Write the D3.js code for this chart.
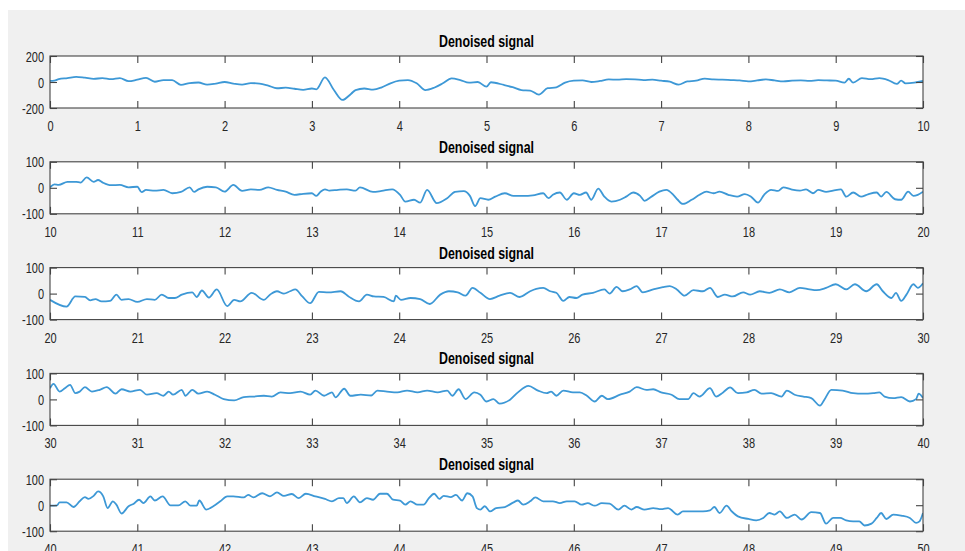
<!DOCTYPE html>
<html>
<head>
<meta charset="utf-8">
<script src="https://cdnjs.cloudflare.com/ajax/libs/d3/7.8.5/d3.min.js"></script>
<style>
  body { margin: 0; background: #fff; }
  text { font-family: "Liberation Sans", Arial, sans-serif; fill: #262626; }
  .tick line { stroke: #444; stroke-width: 1.1px; }
  .title { font-weight: bold; fill: #000; }
</style>
</head>
<body>
<svg id="fig" width="965" height="551"></svg>
<script>
// values, [time (s), amplitude]
var segStarts = [0, 10, 20, 30, 40];
var yLimits = [200, 100, 100, 100, 100];
var titleText = "Denoised signal";

var sig1 = [[0,8],[0.05,10],[0.1,22],[0.2,30],[0.3,40],[0.4,33],[0.5,24],[0.6,30],[0.7,22],[0.8,30],[0.9,6],
  [1.0,18],[1.1,32],[1.2,2],[1.3,15],[1.4,14],[1.5,-22],[1.6,-8],[1.7,-4],[1.8,-20],[1.9,-12],[2.0,0],
  [2.1,-12],[2.2,-20],[2.3,-8],[2.4,-12],[2.5,-28],[2.6,-48],[2.7,-44],[2.8,-52],[2.9,-60],[3.0,-50],
  [3.05,-56],[3.15,36],[3.25,-60],[3.35,-138],[3.45,-90],[3.5,-62],[3.6,-50],[3.7,-58],[3.8,-41],[3.9,-10],
  [4.0,10],[4.1,15],[4.2,-10],[4.3,-62],[4.4,-44],[4.5,-10],[4.6,28],[4.7,15],[4.8,-5],[4.9,0],[5.0,-36],
  [5.05,-2],[5.2,-23],[5.3,-40],[5.4,-62],[5.5,-66],[5.6,-97],[5.7,-48],[5.8,-41],[5.9,-5],[6.0,10],
  [6.1,12],[6.2,0],[6.3,8],[6.4,20],[6.5,18],[6.6,22],[6.7,20],[6.8,15],[6.9,18],[7.0,10],[7.1,2],
  [7.2,-20],[7.3,5],[7.4,10],[7.5,26],[7.6,20],[7.7,18],[7.8,15],[7.9,12],[8.0,5],[8.1,12],[8.2,20],
  [8.3,12],[8.4,5],[8.5,10],[8.6,12],[8.7,8],[8.8,14],[8.9,12],[9.0,10],[9.1,-5],[9.15,25],[9.2,-5],
  [9.3,30],[9.4,22],[9.5,30],[9.6,15],[9.7,-15],[9.75,10],[9.8,-10],[9.9,-5],[10.0,8]];

var sig2 = [[10.0,2],[10.05,13],[10.1,11],[10.2,23],[10.3,23],[10.35,20],[10.42,40],[10.5,23],[10.55,30],
  [10.6,21],[10.7,10],[10.8,11],[10.9,2],[11.0,4],[11.05,-17],[11.1,-8],[11.2,-11],[11.3,-8],[11.4,-21],
  [11.5,-16],[11.6,2],[11.65,-16],[11.7,-6],[11.8,4],[11.9,2],[12.0,-15],[12.1,11],[12.2,-12],[12.3,-6],
  [12.4,-8],[12.5,2],[12.6,-8],[12.7,-15],[12.8,-27],[12.9,-23],[13.0,-21],[13.05,-31],[13.1,-15],
  [13.15,-6],[13.2,-11],[13.3,-8],[13.4,-6],[13.5,-11],[13.55,2],[13.7,-16],[13.8,-12],[13.92,-6],
  [14.01,-27],[14.07,-53],[14.17,-46],[14.24,-57],[14.32,-8],[14.43,-59],[14.55,-40],[14.64,-16],
  [14.74,-13],[14.81,-31],[14.87,-70],[14.93,-40],[15.02,-46],[15.1,-34],[15.21,-21],[15.31,-31],
  [15.42,-31],[15.53,-29],[15.65,-21],[15.71,-40],[15.76,-27],[15.84,-18],[15.92,-46],[16.0,-21],
  [16.07,-27],[16.14,-18],[16.2,-46],[16.28,-3],[16.35,-34],[16.43,-53],[16.53,-46],[16.6,-34],
  [16.68,-18],[16.76,-31],[16.81,-50],[16.89,-34],[16.98,-15],[17.06,-8],[17.14,-27],[17.19,-46],
  [17.25,-62],[17.35,-46],[17.44,-27],[17.52,-15],[17.6,-21],[17.67,-15],[17.77,-27],[17.87,-34],
  [17.96,-24],[18.03,-34],[18.11,-57],[18.18,-27],[18.26,-8],[18.34,-12],[18.4,2],[18.49,-6],[18.59,-11],
  [18.66,-6],[18.74,-21],[18.8,-8],[18.89,-16],[18.97,-11],[19.06,-6],[19.12,-34],[19.2,-18],[19.29,-34],
  [19.37,-25],[19.47,-18],[19.52,-34],[19.58,-16],[19.68,-44],[19.75,-46],[19.83,-15],[19.89,-31],
  [19.94,-27],[20.0,-15]];

var sig3 = [[20.0,-24],[20.19,-50],[20.29,-11],[20.4,-13],[20.46,-26],[20.52,-21],[20.59,-30],[20.69,-28],
  [20.76,-4],[20.82,-24],[20.9,-21],[21.0,-32],[21.11,-21],[21.2,-24],[21.28,-4],[21.36,-17],[21.43,-17],
  [21.51,-4],[21.63,5],[21.68,-13],[21.74,12],[21.82,-15],[21.91,16],[22.03,-48],[22.11,-24],[22.18,-30],
  [22.31,3],[22.45,-24],[22.52,-4],[22.6,9],[22.68,0],[22.75,9],[22.81,16],[22.89,-11],[22.98,-37],
  [23.08,7],[23.19,5],[23.33,9],[23.42,-11],[23.54,-30],[23.63,-4],[23.71,-11],[23.82,-13],[23.94,-30],
  [23.96,-8],[24.02,-24],[24.13,-17],[24.24,-21],[24.35,-40],[24.47,-4],[24.57,9],[24.67,5],[24.76,-8],
  [24.84,22],[24.93,3],[25.04,-21],[25.15,-8],[25.27,3],[25.38,-13],[25.5,9],[25.57,18],[25.65,22],
  [25.73,9],[25.8,3],[25.88,-28],[25.95,-13],[26.03,-17],[26.1,-4],[26.22,3],[26.35,16],[26.41,0],
  [26.49,26],[26.56,9],[26.64,16],[26.72,29],[26.79,5],[26.91,16],[27.02,25],[27.1,29],[27.18,16],
  [27.27,-8],[27.37,13],[27.48,9],[27.56,22],[27.65,-13],[27.73,-4],[27.82,-11],[27.94,5],[28.02,-4],
  [28.13,9],[28.24,3],[28.36,16],[28.47,5],[28.59,22],[28.7,16],[28.78,13],[28.89,22],[29.0,36],
  [29.12,16],[29.22,36],[29.35,9],[29.47,36],[29.54,9],[29.64,-17],[29.69,3],[29.75,-28],[29.81,-4],
  [29.89,36],[29.94,22],[30.0,40]];

var sig4 = [[30.0,43],[30.04,60],[30.11,30],[30.17,43],[30.23,56],[30.29,24],[30.34,30],[30.4,47],[30.48,30],
  [30.57,37],[30.65,47],[30.75,22],[30.82,39],[30.92,30],[31.03,37],[31.11,18],[31.22,24],[31.3,14],
  [31.36,30],[31.41,18],[31.51,37],[31.55,14],[31.63,37],[31.7,22],[31.8,30],[31.89,18],[31.99,1],
  [32.11,-4],[32.22,9],[32.33,11],[32.45,14],[32.54,11],[32.64,27],[32.75,24],[32.87,30],[32.98,18],
  [33.04,34],[33.14,14],[33.23,27],[33.27,8],[33.37,41],[33.44,14],[33.56,18],[33.68,15],[33.75,34],
  [33.86,30],[33.98,27],[34.09,34],[34.21,27],[34.32,34],[34.44,27],[34.55,34],[34.61,14],[34.68,39],
  [34.76,1],[34.86,27],[34.93,18],[35.0,-8],[35.08,1],[35.15,-16],[35.27,-1],[35.36,27],[35.48,52],
  [35.59,34],[35.69,24],[35.74,30],[35.8,14],[35.88,34],[35.99,27],[36.07,27],[36.15,14],[36.24,-8],
  [36.32,14],[36.39,1],[36.53,18],[36.64,30],[36.72,47],[36.83,37],[36.91,39],[37.0,27],[37.12,18],
  [37.21,1],[37.31,1],[37.37,24],[37.44,11],[37.56,43],[37.63,11],[37.71,27],[37.79,46],[37.88,24],
  [37.98,27],[38.07,37],[38.15,22],[38.26,24],[38.38,11],[38.44,34],[38.53,18],[38.63,11],[38.72,5],
  [38.82,-24],[38.87,-1],[38.95,37],[39.08,34],[39.2,24],[39.31,22],[39.43,24],[39.5,27],[39.56,11],
  [39.66,5],[39.75,9],[39.85,-8],[39.92,1],[39.95,22],[40.0,5]];

var sig5 = [[40.0,-2],[40.08,-1],[40.11,11],[40.19,11],[40.27,-7],[40.34,15],[40.4,31],[40.44,24],[40.5,36],
  [40.55,53],[40.61,34],[40.66,-11],[40.72,15],[40.76,2],[40.82,-32],[40.9,-4],[40.96,6],[41.02,21],
  [41.07,8],[41.15,34],[41.2,18],[41.29,34],[41.38,-1],[41.47,-1],[41.55,15],[41.61,-2],[41.68,-2],
  [41.71,18],[41.79,-17],[41.87,-4],[41.95,15],[42.03,34],[42.1,34],[42.22,30],[42.27,40],[42.33,30],
  [42.43,46],[42.52,34],[42.6,49],[42.68,36],[42.77,43],[42.85,27],[42.93,44],[43.04,34],[43.15,24],
  [43.23,15],[43.31,27],[43.36,27],[43.4,8],[43.48,34],[43.55,11],[43.63,27],[43.7,21],[43.78,44],
  [43.86,44],[43.93,21],[44.01,18],[44.07,2],[44.13,15],[44.21,2],[44.28,2],[44.34,27],[44.4,44],
  [44.46,24],[44.51,36],[44.59,31],[44.65,40],[44.72,18],[44.78,46],[44.84,34],[44.89,-11],[44.93,-17],
  [44.98,-4],[45.04,-24],[45.11,-11],[45.21,-7],[45.31,11],[45.36,18],[45.42,2],[45.5,15],[45.56,30],
  [45.65,15],[45.76,15],[45.84,8],[45.92,15],[46.01,15],[46.09,2],[46.16,8],[46.24,-2],[46.32,8],
  [46.41,6],[46.51,-17],[46.58,-2],[46.66,-17],[46.72,-7],[46.81,-17],[46.91,-11],[47.0,-15],[47.08,-11],
  [47.19,-36],[47.25,-24],[47.37,-24],[47.48,-24],[47.56,-20],[47.61,-7],[47.67,-30],[47.75,-2],
  [47.81,-24],[47.88,-43],[48.0,-53],[48.09,-58],[48.17,-49],[48.24,-30],[48.3,-36],[48.36,-24],
  [48.44,-49],[48.53,-36],[48.61,-55],[48.72,-27],[48.82,-30],[48.89,-71],[48.97,-49],[49.05,-49],
  [49.12,-58],[49.2,-62],[49.27,-62],[49.33,-78],[49.41,-71],[49.47,-49],[49.52,-30],[49.58,-53],
  [49.66,-36],[49.75,-40],[49.85,-49],[49.92,-68],[49.96,-62],[50.0,-30]];

var signals = [sig1, sig2, sig3, sig4, sig5];

var svg = d3.select("#fig");
var W = 965, H = 551;
var left = 50, right = 923, top0 = 56, step = 105.8, axH = 52;
var tickLen = 7, sy = 1.35;

// white page with the grey MATLAB figure area
svg.append("rect").attr("width", W).attr("height", H).attr("fill", "#fff");
svg.append("rect").attr("x", 8).attr("y", 10).attr("width", W - 8).attr("height", H - 10).attr("fill", "#f0f0f0");

signals.forEach(function(data, i) {
  var t0 = segStarts[i], lim = yLimits[i];
  var top = top0 + i * step;
  var x = d3.scaleLinear().domain([t0, t0 + 10]).range([left, right]);
  var y = d3.scaleLinear().domain([-lim, lim]).range([top + axH, top]);
  var g = svg.append("g");

  g.append("rect")
    .attr("x", left).attr("y", top)
    .attr("width", right - left).attr("height", axH)
    .attr("fill", "#fff");

  var clipId = "clip" + i;
  g.append("clipPath").attr("id", clipId)
    .append("rect").attr("x", left).attr("y", top).attr("width", right - left).attr("height", axH);

  var line = d3.line()
    .curve(d3.curveMonotoneX)
    .x(function(d) { return x(d[0]); })
    .y(function(d) { return y(d[1]); });
  g.append("path")
    .datum(data)
    .attr("clip-path", "url(#" + clipId + ")")
    .attr("d", line)
    .attr("fill", "none")
    .attr("stroke", "#3d98d6")
    .attr("stroke-width", 1.8)
    .attr("stroke-linejoin", "round");

  var xt = d3.range(t0, t0 + 11);
  var yt = [-lim, 0, lim];

  var gb = g.append("g").attr("transform", "translate(0," + (top + axH) + ")")
    .call(d3.axisBottom(x).tickValues(xt).tickSizeInner(-tickLen).tickSizeOuter(0)
      .tickFormat(function(d) { return String(d); }));
  gb.selectAll("text")
    .attr("y", null).attr("dy", null)
    .attr("transform", "translate(0,23) scale(1," + sy + ")")
    .style("font-size", "11px");

  g.append("g").attr("transform", "translate(0," + top + ")")
    .call(d3.axisTop(x).tickValues(xt).tickSizeInner(-tickLen).tickSizeOuter(0).tickFormat(""));

  var gl = g.append("g").attr("transform", "translate(" + left + ",0)")
    .call(d3.axisLeft(y).tickValues(yt).tickSizeInner(-tickLen).tickSizeOuter(0)
      .tickFormat(function(d) { return String(d); }));
  gl.selectAll("text")
    .attr("x", null).attr("dy", null)
    .attr("text-anchor", "end")
    .attr("transform", "translate(-6,5) scale(1," + sy + ")")
    .style("font-size", "11px");

  g.append("g").attr("transform", "translate(" + right + ",0)")
    .call(d3.axisRight(y).tickValues(yt).tickSizeInner(-tickLen).tickSizeOuter(0).tickFormat(""));

  g.selectAll(".domain").remove();

  g.append("rect")
    .attr("x", left).attr("y", top)
    .attr("width", right - left).attr("height", axH)
    .attr("fill", "none").attr("stroke", "#444").attr("stroke-width", 1.1);

  g.append("text")
    .attr("class", "title")
    .attr("text-anchor", "middle")
    .attr("transform", "translate(" + ((left + right) / 2) + "," + (top - 9) + ") scale(1," + sy + ")")
    .style("font-size", "12.4px")
    .text(titleText);
});
</script>
</body>
</html>
